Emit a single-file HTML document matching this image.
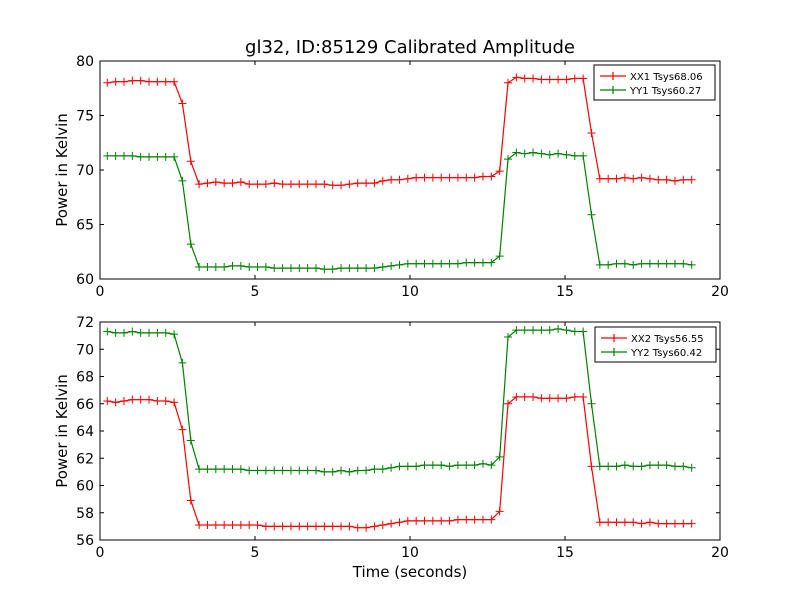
<!DOCTYPE html>
<html><head><meta charset="utf-8"><style>
html,body{margin:0;padding:0;background:#fff;}
svg{display:block;font-family:"DejaVu Sans","Liberation Sans",sans-serif;}
</style></head><body>
<svg id="chart" width="800" height="600" viewBox="0 0 800 600">
<rect x="0" y="0" width="800" height="600" fill="#fff"/>
<text x="410" y="53" font-size="18" text-anchor="middle">gl32, ID:85129 Calibrated Amplitude</text>
<g id="p1"></g>
<g id="p2"></g>
<text x="410" y="577" font-size="15" text-anchor="middle">Time (seconds)</text>
</svg>
<script>
const t0 = 0.235, dt = 0.2693;
const xx1 = [78.0,78.1,78.1,78.2,78.2,78.1,78.1,78.1,78.1,76.1,70.8,
68.7,68.8,68.9,68.8,68.8,68.9,68.7,68.7,68.7,68.8,68.7,68.7,68.7,68.7,68.7,68.7,68.6,68.6,68.7,68.8,68.8,68.8,69.0,
69.1,69.1,69.2,69.3,69.3,69.3,69.3,69.3,69.3,69.3,69.3,69.4,69.4,
69.9,78.0,78.5,78.4,78.4,78.3,78.3,78.3,78.3,78.4,78.4,73.4,
69.2,69.2,69.2,69.3,69.2,69.3,69.2,69.1,69.1,69.0,69.1,69.1];
const yy1 = [71.3,71.3,71.3,71.3,71.2,71.2,71.2,71.2,71.2,69.0,63.2,
61.1,61.1,61.1,61.1,61.2,61.2,61.1,61.1,61.1,61.0,61.0,61.0,61.0,61.0,61.0,60.9,60.9,61.0,61.0,61.0,61.0,61.0,61.1,
61.2,61.3,61.4,61.4,61.4,61.4,61.4,61.4,61.4,61.5,61.5,61.5,61.5,
62.1,71.0,71.6,71.5,71.6,71.5,71.4,71.5,71.4,71.3,71.3,65.9,
61.3,61.3,61.4,61.4,61.3,61.4,61.4,61.4,61.4,61.4,61.4,61.3];
const xx2 = [66.2,66.1,66.2,66.3,66.3,66.3,66.2,66.2,66.1,64.1,58.9,
57.1,57.1,57.1,57.1,57.1,57.1,57.1,57.1,57.0,57.0,57.0,57.0,57.0,57.0,57.0,57.0,57.0,57.0,57.0,56.9,56.9,57.0,57.1,
57.2,57.3,57.4,57.4,57.4,57.4,57.4,57.4,57.5,57.5,57.5,57.5,57.5,
58.1,66.0,66.5,66.5,66.5,66.4,66.4,66.4,66.4,66.5,66.5,61.4,
57.3,57.3,57.3,57.3,57.3,57.2,57.3,57.2,57.2,57.2,57.2,57.2];
const yy2 = [71.3,71.2,71.2,71.3,71.2,71.2,71.2,71.2,71.1,69.0,63.3,
61.2,61.2,61.2,61.2,61.2,61.2,61.1,61.1,61.1,61.1,61.1,61.1,61.1,61.1,61.1,61.0,61.0,61.1,61.0,61.1,61.1,61.2,61.2,
61.3,61.4,61.4,61.4,61.5,61.5,61.5,61.4,61.5,61.5,61.5,61.6,61.5,
62.1,70.9,71.4,71.4,71.4,71.4,71.4,71.5,71.4,71.3,71.3,66.0,
61.4,61.4,61.4,61.5,61.4,61.4,61.5,61.5,61.5,61.4,61.4,61.3];
const xTicks = [0,5,10,15,20];
const yTicks1 = [60,65,70,75,80];
const yTicks2 = [56,58,60,62,64,66,68,70,72];
const legend1 = ["XX1 Tsys68.06","YY1 Tsys60.27"];
const legend2 = ["XX2 Tsys56.55","YY2 Tsys60.42"];

const NS = "http://www.w3.org/2000/svg";
function mk(tag, attrs, parent){const e=document.createElementNS(NS,tag);for(const k in attrs)e.setAttribute(k,attrs[k]);parent.appendChild(e);return e;}

function panel(g, top, bottom, ymin, ymax, yTicks, series, colors, labels, lx, ly, lw){
  const L=100,R=720;
  const xs=v=>L+(v-0)/(20-0)*(R-L);
  const ys=v=>bottom-(v-ymin)/(ymax-ymin)*(bottom-top);
  series.forEach((s,si)=>{
    const pts=s.map((v,i)=>xs(t0+i*dt).toFixed(1)+","+ys(v).toFixed(1)).join(" ");
    const pl=mk("polyline",{points:pts,fill:"none",stroke:colors[si],"stroke-width":1.2},g);
    
    
    s.forEach((v,i)=>{
      const x=xs(t0+i*dt),y=ys(v);
      const m=mk("path",{d:`M${x-4},${y}H${x+4}M${x},${y-4}V${y+4}`,stroke:colors[si],"stroke-width":1},g);
      
      
    });
  });
  const fr=mk("rect",{x:L,y:top,width:R-L,height:bottom-top,fill:"none",stroke:"#000","stroke-width":1},g);
  
  
  xTicks.forEach(v=>{
    const x=xs(v);
    mk("path",{d:`M${x},${bottom}V${bottom-4}M${x},${top}V${top+4}`,stroke:"#000"},g);
    const tx=mk("text",{x:x,y:bottom+17,"font-size":14,"text-anchor":"middle"},g);
    tx.textContent=v;
    
    
  });
  yTicks.forEach(v=>{
    const y=ys(v);
    mk("path",{d:`M${L},${y}H${L+4}M${R},${y}H${R-4}`,stroke:"#000"},g);
    const tx=mk("text",{x:L-6,y:y+5,"font-size":14,"text-anchor":"end"},g);
    tx.textContent=v;
    
    
  });
  const yl=mk("text",{x:0,y:0,"font-size":15,"text-anchor":"middle",transform:`translate(67,${(top+bottom)/2}) rotate(-90)`},g);
  yl.textContent="Power in Kelvin";
  
  
  const lb=mk("rect",{x:lx,y:ly,width:lw,height:35,fill:"#fff",stroke:"#000","stroke-width":1},g);
  
  
  labels.forEach((lab,i)=>{
    const yy=ly+11+i*14;
    mk("path",{d:`M${lx+6},${yy}H${lx+32}M${lx+19},${yy-4}V${yy+4}`,stroke:colors[i],"stroke-width":1.2},g);
    const tx=mk("text",{x:lx+36,y:yy+4,"font-size":10},g);
    tx.textContent=lab;
    
    
  });
}
panel(document.getElementById("p1"),61,279,60,80,yTicks1,[xx1,yy1],["#ff0000","#008000"],legend1,594,65,121);
panel(document.getElementById("p2"),322,540,56,72,yTicks2,[xx2,yy2],["#ff0000","#008000"],legend2,595,327,121);
</script>
</body></html>
